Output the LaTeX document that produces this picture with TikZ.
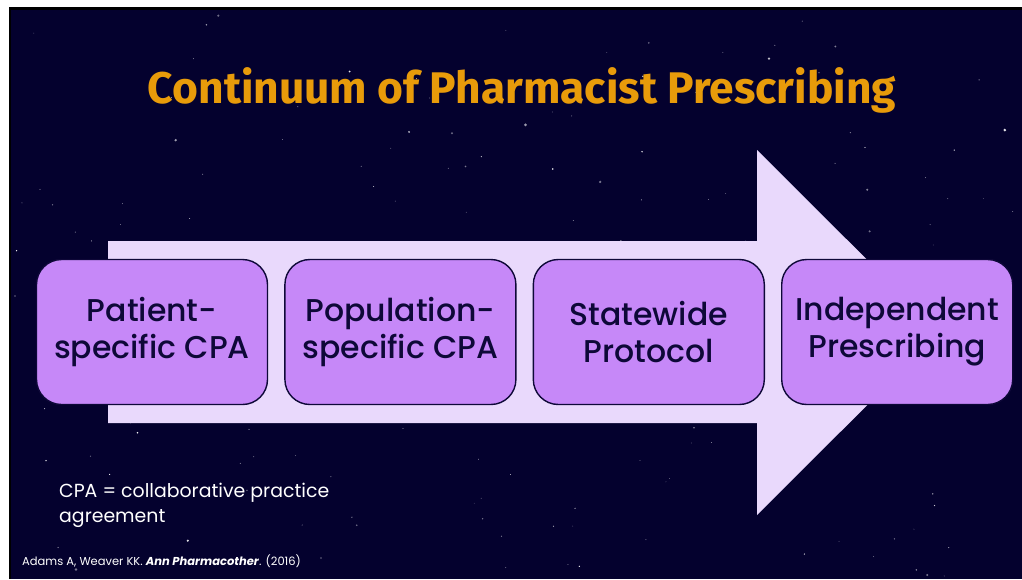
\documentclass[tikz,border=0pt]{standalone}
\usepackage{fontspec}
\setmainfont{Poppins}
\newfontfamily\titlefont{Fira Sans}
\newfontfamily\stepfont{Poppins}[UprightFont=* Medium]
\usetikzlibrary{positioning}
\definecolor{spacenavy}{RGB}{4,1,46}
\definecolor{boxpurple}{RGB}{198,136,248}
\definecolor{arrowlilac}{RGB}{233,217,252}
\definecolor{inknavy}{RGB}{14,8,56}
\definecolor{titleorange}{RGB}{232,155,10}

\tikzset{
    stepbox/.style={draw=inknavy, line width=1.4pt, fill=boxpurple, rounded corners=25pt,
        minimum width=231pt, minimum height=145pt, align=center, text=inknavy,
        font=\stepfont\fontsize{31.5}{37}\selectfont}
}

\begin{document}
\begin{tikzpicture}[x=1pt, y=-1pt]
            \useasboundingbox (0,0) rectangle (1022,579);
            \fill[white] (0,0) rectangle (1022,579);
            \fill[black] (9,7) rectangle (1022,579);
            \fill[spacenavy] (11,10) rectangle (1022,579);
            % stars
            \pgfmathsetseed{4217}
            \foreach \i in {1,...,170}{
                \pgfmathsetmacro{\sx}{12+1008*rnd}
                \pgfmathsetmacro{\sy}{12+565*rnd}
                \pgfmathsetmacro{\sr}{0.4+1.1*rnd^3}
                \pgfmathsetmacro{\so}{0.35+0.65*rnd}
                \fill[white, opacity=\so] (\sx,\sy) circle (\sr pt);
            }
            % big arrow behind the steps
            \fill[arrowlilac] (108,241) -- (757,241) -- (757,150) -- (940,332.5)
                -- (757,515) -- (757,423) -- (108,423) -- cycle;
            \node [anchor=base, text=titleorange, font=\titlefont\fontsize{44.3}{48}\selectfont\bfseries] (title) at (522,103) {Continuum of Pharmacist Prescribing};
            \node [stepbox] (patient) at (152,332) {Patient-\\specific CPA};
            \node [stepbox, right=16pt of patient] (population) {Population-\\specific CPA};
            \node [stepbox, right=16pt of population] (statewide) {Statewide\\Protocol};
            \node [stepbox, right=16pt of statewide] (independent) {Independent\\Prescribing};
            \node [anchor=base west, align=left, text=white, inner sep=0pt, font=\fontsize{18.9}{25}\selectfont] (cpa) at (59,522) {CPA = collaborative practice\\agreement};
            \node [anchor=base west, inner sep=0pt, text=white, font=\fontsize{11.5}{14}\selectfont] (cite) at (22,565) {Adams A, Weaver KK. \textbf{\textit{Ann Pharmacother}}. (2016)};
        \end{tikzpicture}
\end{document}
